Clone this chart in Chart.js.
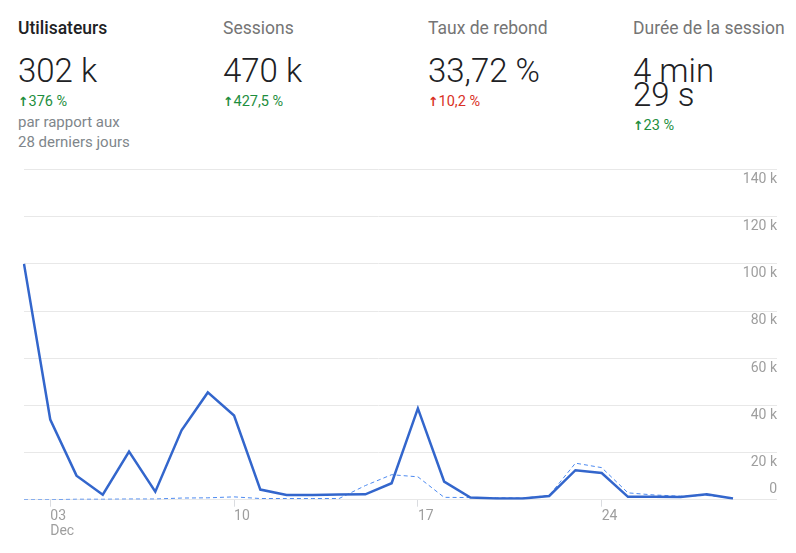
<!DOCTYPE html>
<html>
<head>
<meta charset="utf-8">
<script src="https://cdn.jsdelivr.net/npm/chart.js@4"></script>
<style>
  body { margin: 0; background: #fff; font-family: Roboto, sans-serif; width: 796px; height: 553px; overflow: hidden; position: relative; }
  .kpi { position: absolute; top: 17px; width: 205px; }
  .kpi .t { font-size: 17.5px; color: #757575; line-height: 22px; white-space: nowrap; }
  .kpi .t.on { color: #202124; font-weight: 500; }
  .kpi .v { font-size: 33px; font-weight: 300; color: #202124; line-height: 24px; margin-top: 20px; }
  .kpi .d { font-size: 14.5px; line-height: 18px; margin-top: 10px; }
  .kpi .d b { font-family: "DejaVu Sans", sans-serif; font-size: 12.5px; }
  .up { color: #1e8e3e; }
  .bad { color: #d93025; }
  .kpi .n { font-size: 15px; color: #80868b; line-height: 20px; margin-top: 1px; }
  #wrap { position: absolute; left: 0; top: 150px; width: 796px; height: 403px; }
</style>
</head>
<body>
<div class="kpi" style="left:18px">
  <div class="t on">Utilisateurs</div>
  <div class="v">302 k</div>
  <div class="d up"><b>↑</b>376 %</div>
  <div class="n">par rapport aux<br>28 derniers jours</div>
</div>
<div class="kpi" style="left:223px">
  <div class="t">Sessions</div>
  <div class="v">470 k</div>
  <div class="d up"><b>↑</b>427,5 %</div>
</div>
<div class="kpi" style="left:428px">
  <div class="t">Taux de rebond</div>
  <div class="v">33,72 %</div>
  <div class="d bad"><b>↑</b>10,2 %</div>
</div>
<div class="kpi" style="left:633px">
  <div class="t">Durée de la session</div>
  <div class="v">4 min<br>29 s</div>
  <div class="d up"><b>↑</b>23 %</div>
</div>
<div id="wrap"><canvas id="lineChart"></canvas></div>
<script>
// days of December shown on the x axis
const days = ['02','03','04','05','06','07','08','09','10','11','12','13','14','15',
              '16','17','18','19','20','21','22','23','24','25','26','27','28','29'];
const shownDays = ['03','10','17','24'];
// users, current period
const users = [100000, 34000, 10200, 2100, 20400, 3400, 29400, 45500, 35700, 4300, 2000, 2000, 2200, 2300,
               7000, 38700, 7700, 900, 500, 500, 1600, 12500, 11300, 1200, 1200, 1100, 2300, 500];
// users, previous period (dashed)
const previous = [0, 0, 200, 200, 300, 300, 700, 800, 1200, 500, 500, 500, 500, 6000,
                  10600, 9700, 1000, 900, 800, 700, 1800, 15500, 13600, 2900, 2000, 1500, 1800, 700];
const yMax = 140000;
const yStep = 20000;

const ctx = document.getElementById('lineChart').getContext('2d');
const lineChart = new Chart(ctx, {
    type: 'line',
    data: {
        labels: days,
        datasets: [{
            label: 'Utilisateurs',
            data: users,
            borderColor: '#3366cc',
            borderWidth: 2.5,
            pointRadius: 0,
            tension: 0
        }, {
            label: 'Période précédente',
            data: previous,
            borderColor: '#4d8af0',
            borderWidth: 1,
            borderDash: [4, 3],
            pointRadius: 0,
            tension: 0
        }]
    },
    options: {
        responsive: true,
        maintainAspectRatio: false,
        animation: false,
        layout: { padding: { left: 24, right: 19, top: 18, bottom: 11.5 } },
        plugins: { legend: { display: false }, tooltip: { enabled: false } },
        scales: {
            x: {
                border: { display: false },
                grid: {
                    drawOnChartArea: false,
                    tickLength: 7,
                    color: (c) => shownDays.includes(days[c.index]) ? '#dadce0' : 'rgba(0,0,0,0)'
                },
                ticks: {
                    autoSkip: false,
                    maxRotation: 0,
                    align: 'start',
                    padding: 2,
                    color: '#9e9e9e',
                    font: { family: 'Roboto', size: 14, lineHeight: 1.1 },
                    callback: function (v, i) {
                        const d = days[i];
                        if (d === '03') return [d, 'Dec'];
                        return shownDays.includes(d) ? d : '';
                    }
                }
            },
            y: {
                position: 'right',
                min: 0,
                max: yMax,
                border: { display: false },
                grid: { color: '#e8e8e8', tickLength: 44 },
                afterFit: (scale) => { scale.width = 44; },
                ticks: {
                    stepSize: yStep,
                    crossAlign: 'far',
                    padding: 0,
                    color: '#9e9e9e',
                    font: { family: 'Roboto', size: 14, lineHeight: 1.4 },
                    callback: function (v) {
                        if (v === 0) return ['0', ''];
                        return ['', (v / 1000) + ' k'];
                    }
                }
            }
        }
    }
});
</script>
</body>
</html>
